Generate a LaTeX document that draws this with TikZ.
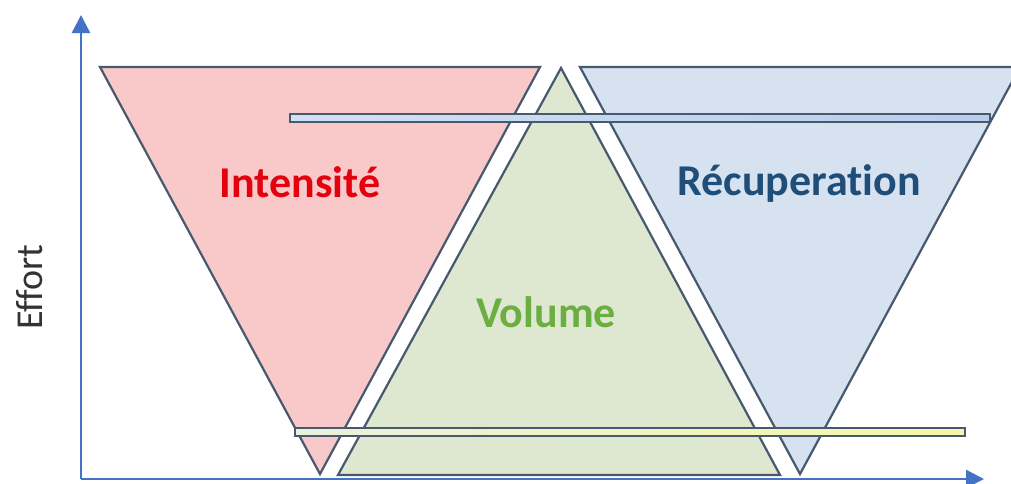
\documentclass[tikz,border=0pt]{standalone}
\usepackage{fontspec}
\setmainfont[Ligatures=NoCommon]{Carlito}
\usetikzlibrary{arrows.meta}
\definecolor{edge}{HTML}{46596E}
\definecolor{pinkfill}{HTML}{F9C8C8}
\definecolor{greenfill}{HTML}{DEE8D1}
\definecolor{bluefill}{HTML}{D6E2F0}
\definecolor{axisblue}{HTML}{4472C4}
\definecolor{txtred}{HTML}{E3000F}
\definecolor{txtblue}{HTML}{1F4E79}
\definecolor{txtgreen}{HTML}{6DAE43}
\definecolor{barblueL}{HTML}{D2E0F3}
\definecolor{barblueR}{HTML}{B7CDEC}
\definecolor{baryelL}{HTML}{EAF1DC}
\definecolor{baryelR}{HTML}{F6F6A8}
\tikzset{
  tri/.style={draw=edge, line width=2.2pt, line join=miter},
  bar/.style={draw=edge, line width=2pt},
  axisline/.style={draw=axisblue, line width=2.4pt, -{Triangle[length=18pt,width=18pt]}},
  label/.style={font=\fontsize{44}{48}\selectfont\bfseries, inner sep=0pt, anchor=base}
}
\begin{document}
\begin{tikzpicture}[x=1pt,y=-1pt]
\useasboundingbox (0,0) rectangle (1011,483);
\fill[white] (0,0) rectangle (1011,483);
% triangles
\filldraw[tri, fill=pinkfill] (100,67) -- (540,67) -- (320,474) -- cycle;
\filldraw[tri, fill=greenfill] (561,68) -- (780,475) -- (338,475) -- cycle;
\filldraw[tri, fill=bluefill] (580,67) -- (1020,67) -- (800,474) -- cycle;
% bars
\shade[left color=barblueL, right color=barblueR] (290,114) rectangle (990,122);
\draw[bar] (290,114) rectangle (990,122);
\shade[left color=baryelL, right color=baryelR] (295,428) rectangle (965,436);
\draw[bar] (295,428) rectangle (965,436);
% axes
\coordinate (o) at (81,479);
\coordinate (ytip) at (81,15);
\coordinate (xtip) at (984,479);
\draw[axisline] (o) -- (ytip);
\draw[axisline] (o) -- (xtip);
% labels
\node[label, text=txtred] (int) at (300,197) {Intensité};
\node[label, text=txtblue] (rec) at (799,195) {Récuperation};
\node[label, text=txtgreen] (vol) at (546,327) {Volume};
\node[font=\fontsize{38}{42}\selectfont, text=black!80, rotate=90, inner sep=0pt] (eff) at (30,287) {Effort};
\end{tikzpicture}
\end{document}
